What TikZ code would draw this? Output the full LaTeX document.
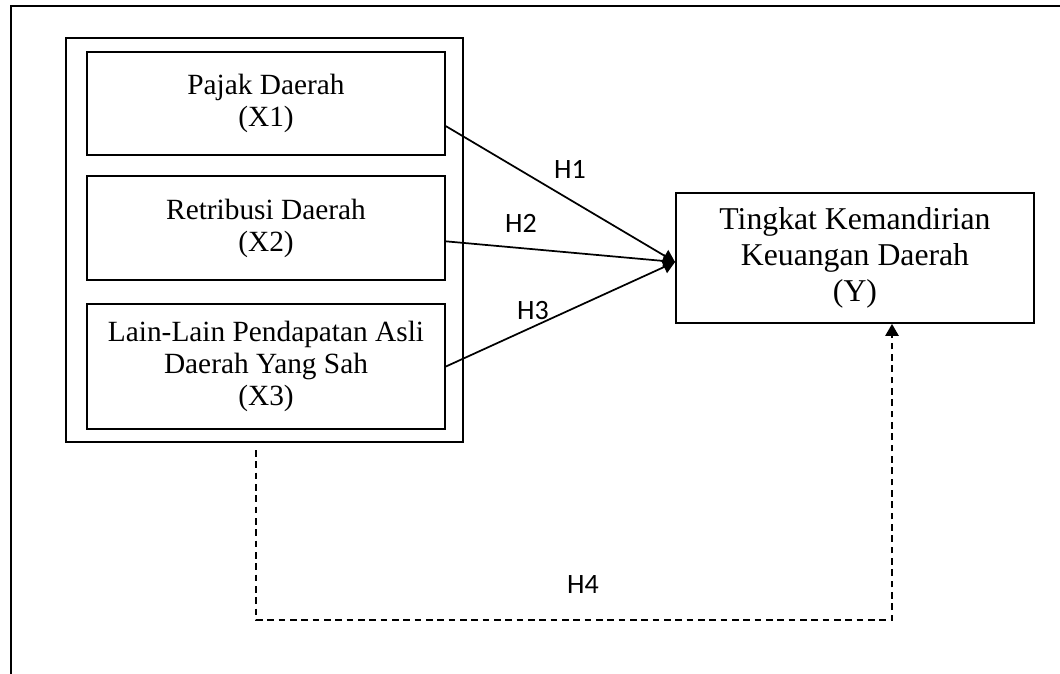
\documentclass[tikz,border=0pt]{standalone}
\usepackage{fontspec}
\setmainfont{Liberation Serif}
\newfontfamily\hfont{Carlito}
\usetikzlibrary{arrows.meta}

\tikzset{
  varbox/.style={draw, line width=1.4pt, align=center, inner sep=0pt, minimum width=268.5pt, font=\fontsize{22}{24}\selectfont},
  hlabel/.style={font=\hfont\fontsize{21}{23}\selectfont},
  link/.style={->, line width=1.3pt},
}

\begin{document}
\begin{tikzpicture}[x=0.75pt, y=-0.75pt, >={Triangle[width=10pt,length=9pt]}]
    \useasboundingbox (0,0) rectangle (1060,674);
    % outer frame
    \draw[line width=1.6pt] (1060,6) -- (11,6) -- (11,674);
    % independent variables
    \node[draw, line width=1.4pt, minimum width=297.75pt, minimum height=303pt] (grp) at (264.5,240) {};
    \node[varbox, minimum height=77.25pt] (x1) at (266,103.5) {Pajak Daerah\\(X1)};
    \node[varbox, minimum height=78pt] (x2) at (266,228) {Retribusi Daerah\\(X2)};
    \node[varbox, minimum height=93.75pt] (x3) at (266,366.5) {Lain-Lain Pendapatan Asli\\Daerah Yang Sah\\(X3)};
    % dependent variable
    \node[varbox, minimum height=97.5pt, font=\fontsize{23.8}{27}\selectfont] (y) at (855,258) {Tingkat Kemandirian\\Keuangan Daerah\\(Y)};
    % partial effects
    \draw[link] ([yshift=-17pt]x1.east) -- ([yshift=-3pt]y.west);
    \draw[link] ([yshift=-10pt]x2.east) -- ([yshift=-3pt]y.west);
    \draw[link] (x3.east) -- ([yshift=-3pt]y.west);
    \node[hlabel] (h1) at (570,169) {H1};
    \node[hlabel] (h2) at (521,223) {H2};
    \node[hlabel] (h3) at (533,311) {H3};
    % simultaneous effect
    \coordinate (d0) at (256,450);
    \coordinate (d1) at (256,620);
    \draw[link, dash pattern=on 5pt off 3.5pt] (d0) -- (d1) -| ([xshift=27.75pt]y.south);
    \node[hlabel] (h4) at (583,585) {H4};
\end{tikzpicture}
\end{document}
